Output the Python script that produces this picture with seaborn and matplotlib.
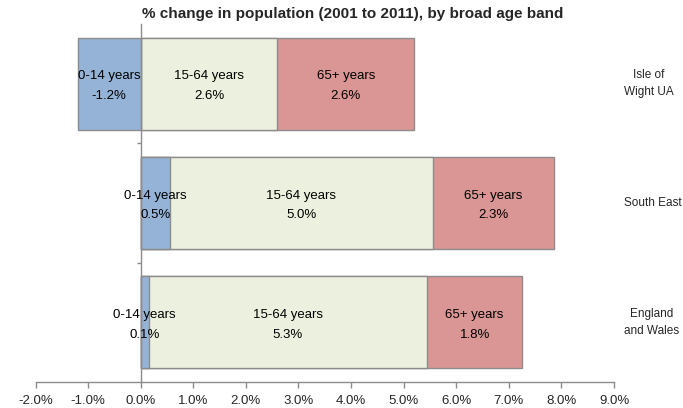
import pandas as pd
import matplotlib.pyplot as plt
import seaborn as sns

# --- data ---
regions = ["Isle of Wight UA", "South East", "England and Wales"]
region_labels = ["Isle of\nWight UA", "South East", "England\nand Wales"]
bands = ["0-14 years", "15-64 years", "65+ years"]
young = [-1.2, 0.55, 0.15]
working = [2.6, 5.0, 5.3]
older = [2.6, 2.3, 1.8]
young_txt = ["-1.2%", "0.5%", "0.1%"]
working_txt = ["2.6%", "5.0%", "5.3%"]
older_txt = ["2.6%", "2.3%", "1.8%"]
x_ticks = [-2, -1, 0, 1, 2, 3, 4, 5, 6, 7, 8, 9]

colors = {"0-14 years": "#95b3d7", "15-64 years": "#ebf1de", "65+ years": "#da9694"}
edge = "#8c8c8c"

sns.set_style("white")
plt.rcParams["font.family"] = ["Liberation Sans", "DejaVu Sans"]

# stacked positions: positive bands stack from zero, negative goes left
df = pd.DataFrame({"region": regions, "young": young, "working": working, "older": older})
df["start_work"] = df["young"].clip(lower=0)
df["end_work"] = df["start_work"] + df["working"]
df["end_old"] = df["end_work"] + df["older"]

fig = plt.figure(figsize=(6.83, 4.08), dpi=100)
ax = fig.add_axes([0.052, 0.0637, 0.847, 0.8773])

# draw back to front so the segments look stacked
sns.barplot(data=df, x="end_old", y="region", orient="h", color=colors["65+ years"],
            width=0.77, edgecolor=edge, linewidth=1, saturation=1, ax=ax)
sns.barplot(data=df, x="end_work", y="region", orient="h", color=colors["15-64 years"],
            width=0.77, edgecolor=edge, linewidth=1, saturation=1, ax=ax)
sns.barplot(data=df, x="young", y="region", orient="h", color=colors["0-14 years"],
            width=0.77, edgecolor=edge, linewidth=1, saturation=1, ax=ax)

# segment labels
for i, row in df.iterrows():
    segs = [
        (min(row["young"], 0), max(row["young"], 0), bands[0], young_txt[i]),
        (row["start_work"], row["end_work"], bands[1], working_txt[i]),
        (row["end_work"], row["end_old"], bands[2], older_txt[i]),
    ]
    for a, b, name, txt in segs:
        ax.text((a + b) / 2, i + 0.02, f"{name}\n{txt}", ha="center", va="center",
                fontsize=9.5, color="black", linespacing=1.85)

# region names on the right
for i, lab in enumerate(region_labels):
    ax.text(1.017, i, lab, transform=ax.get_yaxis_transform(), ha="left",
            multialignment="center", va="center", fontsize=8.5, linespacing=1.6)

ax.set_xlim(-2, 9)
ax.set_ylim(2.5, -0.5)
ax.set_xticks(x_ticks)
ax.set_xticklabels([f"{t:.1f}%" for t in x_ticks], fontsize=9.5)
ax.set_xlabel("")
ax.set_ylabel("")

ax.set_yticks([])
ax.set_yticks([0.5, 1.5], minor=True)
ax.tick_params(axis="y", which="minor", left=True, length=3, color=edge, width=1)
ax.tick_params(axis="x", bottom=True, length=4, color=edge, width=1, pad=5)

sns.despine(ax=ax, top=True, right=True)
ax.spines["left"].set_position(("data", 0))
for s in ["left", "bottom"]:
    ax.spines[s].set_color(edge)
    ax.spines[s].set_linewidth(1)

fig.text(0.517, 0.966, "% change in population (2001 to 2011), by broad age band",
         ha="center", va="center", fontsize=11, fontweight="bold")

fig.savefig("out.png", dpi=100)
